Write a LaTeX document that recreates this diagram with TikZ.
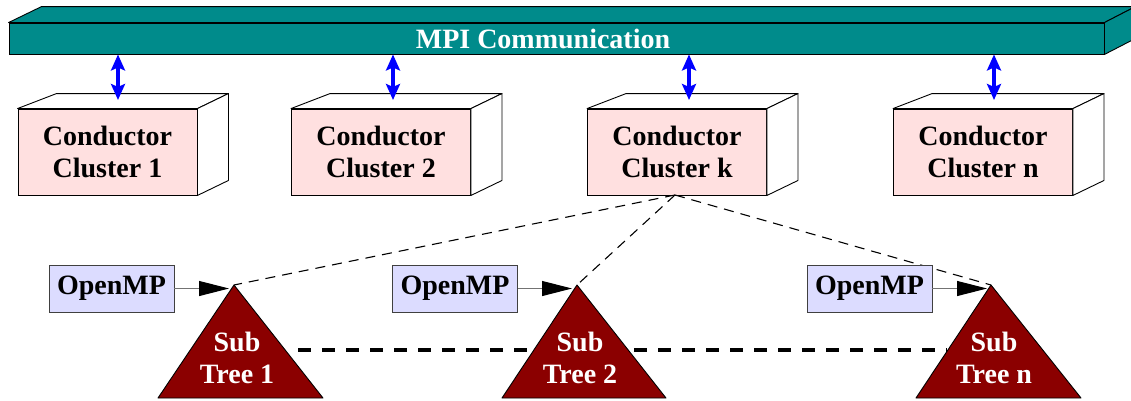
\documentclass[tikz,border=0pt]{standalone}
\usepackage{fontspec}
\setmainfont{Liberation Serif}
\usetikzlibrary{arrows.meta}
\definecolor{mpiteal}{RGB}{0,139,139}
\definecolor{clpink}{RGB}{255,224,224}
\definecolor{ompblue}{RGB}{220,220,255}
\definecolor{treered}{RGB}{139,0,0}
\begin{document}
\begin{tikzpicture}[x=1pt,y=-1pt,
  lbl/.style={font=\fontsize{28}{32}\selectfont\bfseries, align=center},
  front/.style={draw=black, line width=0.9pt, fill=clpink, minimum width=179pt, minimum height=86pt, inner sep=0pt, lbl},
  face/.style={draw=black, line width=0.9pt, fill=white, line join=round},
  omp/.style={draw=black!75, line width=0.9pt, fill=ompblue, minimum width=125pt, minimum height=47pt, inner sep=0pt, lbl},
  tree/.style={draw=black, line width=0.9pt, fill=treered, line join=round},
  treelbl/.style={lbl, text=white},
  mpiarrow/.style={draw=blue, line width=3.5pt, {Stealth[length=16pt,width=14pt,inset=3pt]}-{Stealth[length=16pt,width=14pt,inset=3pt]}},
  omparrow/.style={draw=black!55, line width=1pt, -{Triangle[length=30pt,width=15pt,color=black]}},
  kdash/.style={draw=black, line width=1.1pt, dash pattern=on 10pt off 7pt},
  tdash/.style={draw=black, line width=4pt, dash pattern=on 13pt off 11pt}]
\useasboundingbox (0,0) rectangle (1131,400);
\clip (0,0) rectangle (1131,400);

% MPI bar
\node[draw=black, line width=0.9pt, fill=mpiteal, minimum width=1095pt, minimum height=31pt, inner sep=0pt] (mpi) at (556.5,38.5) {};
\draw[face, fill=mpiteal] (mpi.north west) -- ([shift={(33,-16)}]mpi.north west) -- ([shift={(31,-16)}]mpi.north east) -- (mpi.north east) -- cycle;
\draw[face, fill=mpiteal] (mpi.north east) -- ([shift={(31,-16)}]mpi.north east) -- ([shift={(31,-16)}]mpi.south east) -- (mpi.south east) -- cycle;
\node[lbl, text=white] (mpilabel) at (543,38.5) {MPI Communication};

% clusters
\node[front] (c1) at (107.5,152) {Conductor\\Cluster 1};
\node[front] (c2) at (381,152) {Conductor\\Cluster 2};
\node[front] (ck) at (677,152) {Conductor\\Cluster k};
\node[front] (cn) at (983,152) {Conductor\\Cluster n};
\foreach \c in {c1,c2,ck,cn}{
  \draw[face] (\c.north west) -- ([shift={(39,-15)}]\c.north west) -- ([shift={(31,-15)}]\c.north east) -- (\c.north east) -- cycle;
  \draw[face] (\c.north east) -- ([shift={(31,-15)}]\c.north east) -- ([shift={(31,-15)}]\c.south east) -- (\c.south east) -- cycle;
}

% MPI arrows
\coordinate (a1) at (118,100);
\coordinate (a2) at (393,100);
\coordinate (ak) at (689,100);
\coordinate (an) at (994,100);
\foreach \a in {a1,a2,ak,an}{
  \draw[mpiarrow] (mpi.south -| \a) -- (\a);
}

% thick dashed line behind trees
\coordinate (d1) at (298,350);
\coordinate (dn) at (947,350);
\draw[tdash] (d1) -- (dn);

% trees
\draw[tree] (234,285) coordinate (t1top) -- (323,398) -- (158,398) -- cycle;
\draw[tree] (577,285) coordinate (t2top) -- (666,398) -- (502,398) -- cycle;
\draw[tree] (991,285) coordinate (tntop) -- (1081,398) -- (916,398) -- cycle;
\node[treelbl] (t1) at (237,358) {Sub\\Tree 1};
\node[treelbl] (t2) at (580,358) {Sub\\Tree 2};
\node[treelbl] (tn) at (994,358) {Sub\\Tree n};

% dashed lines from cluster k
\coordinate (kfoot) at (675,195);
\draw[kdash] (kfoot) -- (t1top);
\draw[kdash] (kfoot) -- (t2top);
\draw[kdash] (kfoot) -- (tntop);

% OpenMP
\node[omp] (o1) at (111.5,288.5) {OpenMP};
\node[omp] (o2) at (455,288.5) {OpenMP};
\node[omp] (on) at (869.5,288.5) {OpenMP};
\coordinate (h1) at (229,290);
\coordinate (h2) at (572,290);
\coordinate (hn) at (987,290);
\draw[omparrow] (o1.east) -- (o1.east -| h1);
\draw[omparrow] (o2.east) -- (o2.east -| h2);
\draw[omparrow] (on.east) -- (on.east -| hn);
\end{tikzpicture}
\end{document}
